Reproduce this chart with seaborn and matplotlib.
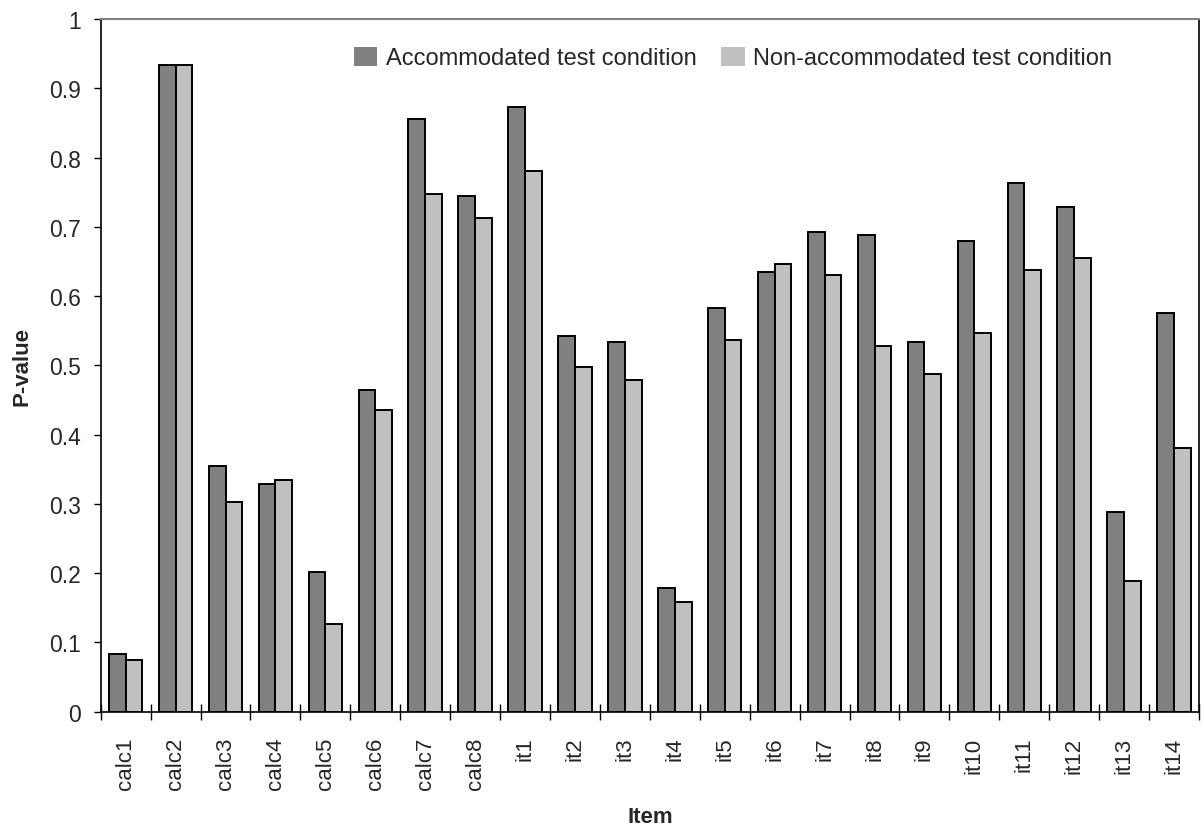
import numpy as np
import pandas as pd
import matplotlib
matplotlib.use("Agg")
import matplotlib.pyplot as plt
import seaborn as sns
from matplotlib.ticker import FixedLocator, FuncFormatter

items = ["calc1", "calc2", "calc3", "calc4", "calc5", "calc6", "calc7", "calc8",
         "it1", "it2", "it3", "it4", "it5", "it6", "it7", "it8", "it9", "it10",
         "it11", "it12", "it13", "it14"]
accommodated = [0.083, 0.934, 0.355, 0.329, 0.202, 0.465, 0.856, 0.745,
                0.873, 0.543, 0.534, 0.179, 0.583, 0.635, 0.693, 0.688,
                0.534, 0.679, 0.763, 0.728, 0.288, 0.575]
non_accommodated = [0.074, 0.934, 0.303, 0.335, 0.127, 0.436, 0.748, 0.713,
                    0.780, 0.497, 0.479, 0.159, 0.537, 0.647, 0.630, 0.528,
                    0.488, 0.546, 0.638, 0.655, 0.188, 0.381]
conditions = ["Accommodated test condition", "Non-accommodated test condition"]
colors = {conditions[0]: "#808080", conditions[1]: "#C0C0C0"}

df = pd.DataFrame({
    "Item": items * 2,
    "P-value": accommodated + non_accommodated,
    "Condition": [conditions[0]] * len(items) + [conditions[1]] * len(items),
})

sns.set_style("white")
plt.rcParams["font.family"] = ["Liberation Sans", "DejaVu Sans"]

fig = plt.figure(figsize=(12.02, 8.28), dpi=100)
ax = fig.add_axes([0.0838, 0.1393, 0.9137, 0.8365])

sns.barplot(data=df, x="Item", y="P-value", hue="Condition", palette=colors,
            width=0.67, gap=0, edgecolor="black", linewidth=1.4,
            saturation=1, ax=ax)

ax.set_ylim(0, 1)
ax.set_xlim(-0.5, len(items) - 0.5)
ax.set_yticks(np.arange(0, 1.01, 0.1))
ax.yaxis.set_major_formatter(FuncFormatter(lambda v, p: f"{v:g}"))
ax.tick_params(axis="y", direction="out", length=5, width=1, color="black",
               labelsize=16.5, pad=9, left=True)
ax.tick_params(axis="x", which="major", length=0, labelsize=16, pad=18,
               labelrotation=90)
# boundary ticks between categories
ax.xaxis.set_minor_locator(FixedLocator(np.arange(-0.5, len(items), 1.0)))
ax.tick_params(axis="x", which="minor", direction="inout", length=11,
               width=1, color="black", bottom=True)

for side in ["left", "bottom", "right"]:
    ax.spines[side].set_color("black")
    ax.spines[side].set_linewidth(1.2)
ax.spines["top"].set_color("#808080")
ax.spines["top"].set_linewidth(1.5)

ax.set_xlabel("Item", fontsize=16, fontweight="bold", labelpad=12)
ax.set_ylabel("P-value", fontsize=16, fontweight="bold", labelpad=12)

ax.legend(title=None, frameon=False, ncol=2, fontsize=17,
          loc="center right", bbox_to_anchor=(1112 / 1202, 1 - 59 / 828),
          bbox_transform=fig.transFigure, borderpad=0, borderaxespad=0,
          handlelength=1.0, handleheight=0.85, handletextpad=0.35,
          columnspacing=1.05)
for h in ax.get_legend().legend_handles:
    h.set_edgecolor("none")

fig.savefig("out.png", dpi=100)
